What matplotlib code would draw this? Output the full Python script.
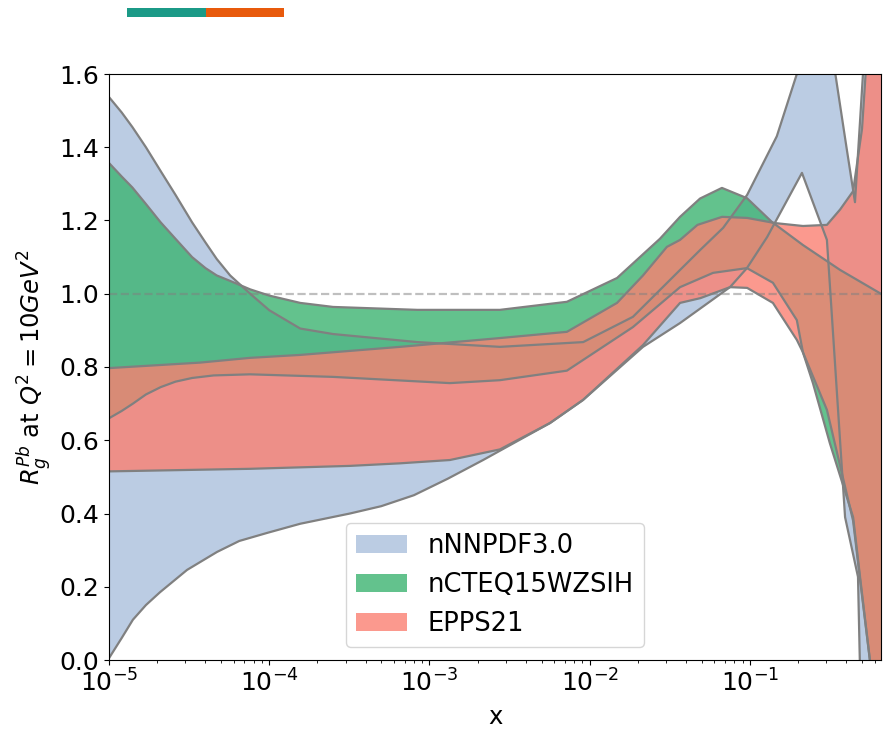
import numpy as np
import matplotlib
matplotlib.use("Agg")
import matplotlib.pyplot as plt
from matplotlib.patches import Rectangle

# gluon nuclear modification R_g^Pb at Q^2 = 10 GeV^2, band edges per set
nnpdf_x_up = [1e-5, 1.2e-5, 1.4e-5, 1.7e-5, 2.1e-5, 2.6e-5, 3.3e-5, 4.0e-5, 4.7e-5,
              5.7e-5, 7.6e-5, 1.0e-4, 1.56e-4, 2.5e-4, 8.4e-4, 2.75e-3, 9.1e-3,
              1.86e-2, 3.66e-2, 4.9e-2, 6.8e-2, 9.6e-2, 0.147, 0.196, 0.3, 0.4,
              0.452, 0.507, 0.656]
nnpdf_up = [1.537, 1.495, 1.455, 1.40, 1.335, 1.27, 1.195, 1.14, 1.095,
            1.05, 1.0, 0.955, 0.905, 0.89, 0.868, 0.855, 0.868,
            0.937, 1.065, 1.12, 1.18, 1.27, 1.43, 1.6, 1.76, 1.40,
            1.25, 1.6, 2.2]
nnpdf_x_lo = [1e-5, 1.2e-5, 1.41e-5, 1.7e-5, 2.08e-5, 3.07e-5, 4.72e-5, 6.5e-5,
              9.7e-5, 1.56e-4, 3.19e-4, 5.0e-4, 8.0e-4, 1.3e-3, 2.16e-3, 5.65e-3,
              9.08e-3, 2.15e-2, 3.66e-2, 7.5e-2, 9.57e-2, 0.128, 0.211, 0.302,
              0.392, 0.472, 0.49, 0.656]
nnpdf_lo = [0.005, 0.06, 0.11, 0.15, 0.185, 0.246, 0.295, 0.325,
            0.347, 0.372, 0.40, 0.42, 0.45, 0.495, 0.546, 0.647,
            0.71, 0.855, 0.92, 1.018, 1.07, 1.155, 1.33, 1.147,
            0.39, 0.227, -0.1, -0.8]

ncteq_x_up = [1e-5, 1.2e-5, 1.4e-5, 1.7e-5, 2.1e-5, 2.6e-5, 3.3e-5, 4.0e-5, 4.7e-5,
              5.7e-5, 7.6e-5, 1.0e-4, 1.56e-4, 2.5e-4, 8.4e-4, 2.75e-3, 7.2e-3,
              1.48e-2, 2.74e-2, 3.66e-2, 4.88e-2, 6.68e-2, 9.57e-2, 0.137, 0.214,
              0.365, 0.656]
ncteq_up = [1.357, 1.32, 1.29, 1.245, 1.195, 1.15, 1.10, 1.07, 1.05,
            1.035, 1.012, 0.995, 0.975, 0.964, 0.956, 0.956, 0.978,
            1.043, 1.15, 1.21, 1.26, 1.289, 1.261, 1.196, 1.133,
            1.065, 1.0]
ncteq_x_lo = [1e-5, 1.2e-5, 1.41e-5, 1.7e-5, 2.1e-5, 2.6e-5, 3.3e-5, 4.5e-5,
              7.6e-5, 2.5e-4, 1.34e-3, 2.75e-3, 7.2e-3, 1.86e-2, 3.66e-2, 5.88e-2,
              9.57e-2, 0.139, 0.196, 0.214, 0.247, 0.315, 0.44, 0.486, 0.56, 0.656]
ncteq_lo = [0.66, 0.68, 0.70, 0.725, 0.745, 0.76, 0.77, 0.777,
            0.78, 0.773, 0.756, 0.764, 0.79, 0.909, 1.018, 1.057,
            1.07, 1.03, 0.928, 0.84, 0.756, 0.592, 0.39, 0.227, 0.0, -0.4]

epps_x_up = [1e-5, 3.7e-5, 7.6e-5, 1.56e-4, 6.55e-4, 2.75e-3, 7.2e-3, 1.48e-2,
             2.15e-2, 3.03e-2, 3.66e-2, 4.7e-2, 6.7e-2, 9.6e-2, 0.143, 0.214,
             0.302, 0.365, 0.44, 0.5, 0.545, 0.656]
epps_up = [0.797, 0.812, 0.825, 0.833, 0.855, 0.879, 0.896, 0.975,
           1.05, 1.128, 1.147, 1.188, 1.21, 1.207, 1.193, 1.185,
           1.188, 1.23, 1.28, 1.45, 1.7, 2.2]
epps_x_lo = [1e-5, 7.6e-5, 3.19e-4, 6.55e-4, 1.34e-3, 2.75e-3, 5.65e-3, 9.08e-3,
             2.15e-2, 3.66e-2, 4.9e-2, 7.5e-2, 9.6e-2, 0.139, 0.196, 0.214,
             0.302, 0.44, 0.486, 0.56, 0.656]
epps_lo = [0.515, 0.522, 0.53, 0.537, 0.546, 0.575, 0.647, 0.71,
           0.86, 0.975, 0.988, 1.018, 1.016, 0.975, 0.874, 0.84,
           0.683, 0.38, 0.22, 0.0, -0.4]

sets = [
    ("nNNPDF3.0", nnpdf_x_up, nnpdf_up, nnpdf_x_lo, nnpdf_lo, "#b0c4de", 0.85),
    ("nCTEQ15WZSIH", ncteq_x_up, ncteq_up, ncteq_x_lo, ncteq_lo, "mediumseagreen", 0.8),
    ("EPPS21", epps_x_up, epps_up, epps_x_lo, epps_lo, "salmon", 0.8),
]

fig = plt.figure(figsize=(8.83, 7.29), dpi=100)
ax = fig.add_axes([109/883, 69/729, 772/883, 586/729])

for name, xu, yu, xl, yl, col, a in sets:
    px = np.concatenate([xu, xl[::-1]])
    py = np.concatenate([yu, yl[::-1]])
    ax.fill(px, py, color=col, alpha=a, lw=0, label=name)

for name, xu, yu, xl, yl, col, a in sets:
    ax.plot(xu, yu, color="gray", lw=1.6)
    ax.plot(xl, yl, color="gray", lw=1.6)

ax.axhline(1.0, color="gray", ls="--", lw=1.6, alpha=0.5)

ax.set_xscale("log")
ax.set_xlim(1e-5, 10**(-0.1825))
ax.set_ylim(0, 1.6)
ax.set_yticks(np.arange(0, 1.61, 0.2))
ax.tick_params(labelsize=18)
ax.set_xlabel("x", fontsize=17.5, labelpad=6)
ax.set_ylabel(r"$R_g^{Pb}$ at $Q^2=10GeV^2$", fontsize=17.5)
ax.legend(loc="lower center", fontsize=18.5)

# header strip above the plot
fig.add_artist(Rectangle((127/883, 1 - 17/729), 79/883, 9/729,
                         transform=fig.transFigure, color="#1b9a87", lw=0))
fig.add_artist(Rectangle((206/883, 1 - 17/729), 78/883, 9/729,
                         transform=fig.transFigure, color="#e85a0c", lw=0))

fig.savefig("out.png", dpi=100)
